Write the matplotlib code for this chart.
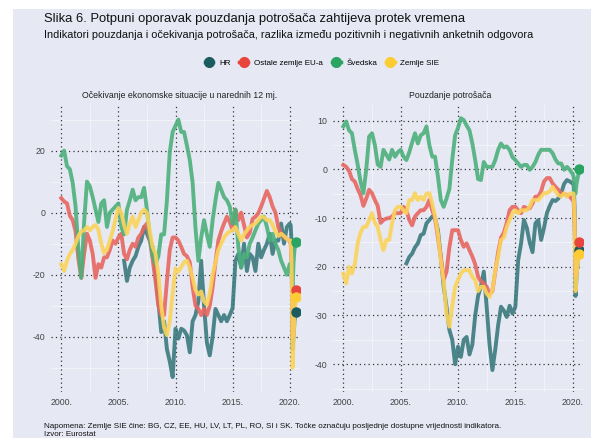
import numpy as np
import matplotlib
matplotlib.use("Agg")
import matplotlib.pyplot as plt
from matplotlib.lines import Line2D
from matplotlib.patches import Rectangle

plt.rcParams['font.family'] = ['Liberation Sans', 'DejaVu Sans']
plt.rcParams['axes.unicode_minus'] = False

# vrijeme: kvartalno 2000-2020, pa mjesecno veljaca-kolovoz 2020
godine = np.concatenate([np.arange(2000, 2020.01, 0.25), 2020 + np.arange(1, 8) / 12])
nan = np.nan

# Ocekivanje ekonomske situacije u narednih 12 mj.
hr_ocek = [nan] * 22 + [
    -15.5, -22,
    -17.7, -15.5, -14, -11,
    -9, -4.6, -6.8, -9,
    -11, -20, -28.6, -38.5,
    -35, -44, -48, -53,
    -37.4, -40.6, -37.4, -38,
    -39.5, -45, -35, -33,
    -28.6, -15.5, -30, -42,
    -46, -40, -31, -33,
    -35, -33, -35, -33,
    -30.8, -15.5, -13.3, -17.7,
    -10, -18.8, -13.3, -14.4,
    -18.8, -10, -14.4, -12,
    -10, -6.8, -13.3, -9,
    -9, -3.5, -10, -4.6,
    -3.5,
    -4, -10, -44, -40, -35, -33, -32]
eu_ocek = [
    4.7, 3.6, 3, -1,
    -2.4, -6, -15, -21,
    -13.3, -6.8, -9, -13.3,
    -21, -16.6, -17.7, -14.4,
    -14.4, -12, -9, -10,
    -8, -6.8, -13.3, -15,
    -12, -10, -11, -8,
    -6.8, -4.6, -3.5, -9,
    -15, -22, -30, -33,
    -33, -22, -12, -8,
    -8, -9, -11, -13.3,
    -14, -16, -24, -30,
    -31, -33, -31, -33,
    -30, -24, -16, -9,
    -6, -3.5, -1.3, -3,
    -5.7, 1, -2.4, 0,
    -4, -8, -6.5, -2,
    -1.3, -0.2, 2, 4.5,
    7, 5, 2, 0,
    -4.6, -6.8, -7.9, -8.5,
    -9,
    -10, -15, -40, -35, -30, -27, -25]
se_ocek = [
    18.4, 20, 15, 14,
    9.6, 2, -12, -21,
    -3, 10, 8.5, 5,
    1, -3, 3, 4,
    -4.6, 0, 1, 2,
    3, -4.6, -7, 1,
    4, 7.4, 4, 5,
    5, 8, 1, -8,
    -14, -16.6, -14, -7,
    -7, 4, 19.5, 26,
    28, 30, 26, 26,
    21.6, 17, 9.6, -5,
    -15.5, -8, -2.4, -7,
    -11, -2.4, 4, 9.6,
    7.4, 5, 4, 2,
    -3.5, 1, -11, -17.7,
    -13.3, -14.4, -10, -8,
    -5.7, -3.5, -2.4, -1.3,
    -4.6, -9, -6.8, -10,
    -12, -15.5, -17.7, -20,
    -16.6,
    -17, -20, -24, -16, -12, -10, -9.5]
sie_ocek = [
    -16.6, -18.8, -15.5, -13.3,
    -12, -10, -7.5, -6,
    -5.7, -4.6, -5.7, -4.6,
    -4, -5.5, -10, -13,
    -12, -9, -6, -2,
    1.5, 0, -4, -6.8,
    -3.5, -1.3, -4.6, -2.4,
    0, 1, 0, -6,
    -11, -13.3, -20, -30,
    -37, -39.5, -35, -26,
    -18, -19, -17.5, -16,
    -15.5, -17.7, -21, -25,
    -26.4, -25.4, -28.6, -29.7,
    -26, -20, -16, -12,
    -10, -8, -6.8, -6,
    -5.7, -4.6, -6.8, -9,
    -7, -5.7, -4.6, -4,
    -3.5, -2.4, -1.3, -1.5,
    -2.4, -2.4, -4, -6,
    -7.5, -6.8, -7.5, -8.5,
    -9,
    -9, -15, -50, -42, -33, -29, -27.3]

# Pouzdanje potrosaca
hr_pouz = [nan] * 22 + [
    -19.3, -18,
    -17.3, -16, -15.2, -13.5,
    -13.2, -11.1, -10.4, -9.7,
    -10, -12.5, -18, -24,
    -28.2, -33, -35, -40,
    -36.4, -38.5, -35, -34.4,
    -38, -36, -30, -26,
    -24.1, -21, -28.2, -36,
    -41.2, -37, -32, -28.2,
    -29, -30.3, -28, -29.6,
    -28.2, -18.6, -15.2, -10.4,
    -12, -15, -17, -11.1,
    -10.4, -14.5, -12, -9,
    -7.5, -6.3, -6.5, -6,
    -4.9, -3, -2.2, -2.5,
    -2.9,
    -3, -8, -26, -22, -20, -18, -16.6]
eu_pouz = [
    0.9, 0.5, -0.3, -2,
    -2.5, -4, -5.3, -7.5,
    -6, -4.2, -4.9, -6.3,
    -7.5, -11, -10.4, -10.1,
    -10, -9.7, -9, -9,
    -9, -7.7, -8.4, -10.4,
    -11.5, -9.7, -9, -8.4,
    -8.4, -7.7, -6.3, -8.4,
    -10, -14, -18, -22.7,
    -21, -16, -12.5, -12.5,
    -12.5, -14.5, -15.9, -15.2,
    -16.6, -17.9, -19.5, -22,
    -23, -23.4, -24.1, -25.5,
    -25, -21, -17, -14,
    -13, -11, -8.4, -7.7,
    -7.7, -8.4, -9, -7.7,
    -8, -8, -7, -5.6,
    -5.6, -4.5, -2.5, -1.8,
    -1.8, -2.9, -3.6, -4.2,
    -5, -5, -5.3, -5.6,
    -6.3,
    -6.5, -11, -22, -21, -18, -16, -14.9]
se_pouz = [
    8.8, 9.8, 8, 7.4,
    4, 1, -2.5, -4.9,
    0, 6.7, 7.4, 5,
    1, 0.5, 4, 3,
    2, 4, 2.6, 3.5,
    4, 2.6, 1.9, 3.5,
    5.5, 7.4, 5.3, 7,
    7.4, 8.8, 5, 2.6,
    2.6, -1.5, -6.3, -7.7,
    -6, -4, 2, 7,
    8.5, 10.5, 10.1, 9,
    8, 5.3, 1.9, -2,
    -2.2, 1.5, 0.5, 0.5,
    0.5, 1.9, 4, 5.3,
    4.5, 4.7, 4, 2.5,
    1.9, 1.2, 0.5, 0.9,
    0.9, -0.1, 0.5, 1.5,
    3, 4, 4, 4,
    4, 3.3, 2, 1.2,
    1.2, -0.1, 0.5, -0.1,
    -1,
    -1.5, -5, -5, -3, -2, -1, 0]
sie_pouz = [
    -21.4, -23.4, -20, -21.4,
    -19.5, -15.2, -13, -11.8,
    -11.8, -10.4, -9, -11,
    -11.8, -14.5, -16.6, -14.5,
    -14.5, -11.1, -8.4, -7.7,
    -7.7, -8.4, -9, -6.3,
    -6.3, -4.9, -6.3, -5.6,
    -6.3, -5, -4.9, -7,
    -9.7, -13.2, -18.6, -23,
    -29.6, -32.3, -28, -24.1,
    -22.7, -21.4, -20.7, -20.7,
    -20.7, -22.1, -22.7, -25,
    -24.1, -24.1, -25.5, -26.2,
    -24.8, -20.7, -17.9, -14.5,
    -14, -11.8, -10.4, -9,
    -8.4, -9, -8.4, -8.4,
    -8.4, -7.7, -6.3, -6.3,
    -6.3, -5.6, -4.9, -4.9,
    -4.5, -3.6, -4.5, -5.3,
    -5.6, -4.9, -5.6, -5,
    -4.9,
    -5, -10, -25, -22, -20, -18.5, -17.4]

nazivi = ['HR', 'Ostale zemlje EU-a', 'Švedska', 'Zemlje SIE']
boje_linija = ['#3b7a7d', '#e8665f', '#4cb07b', '#fbd35a']
boje_tocaka = ['#1b5c60', '#e8453d', '#2aa463', '#fdcc33']
x_godine = [2000, 2005, 2010, 2015, 2020]

pozadina = '#e6e8f4'

fig = plt.figure(figsize=(5.91, 4.38), dpi=100)
fig.patch.set_facecolor('white')
# lavandasta pozadina (lijevo i gore ostaje bijela traka)
fig.patches.append(Rectangle((13 / 591, 0), 1, 1 - 9 / 438, transform=fig.transFigure,
                             facecolor=pozadina, edgecolor='none', zorder=-10))

fig.text(44 / 591, 1 - 19 / 438, 'Slika 6. Potpuni oporavak pouzdanja potrošača zahtijeva protek vremena',
         fontsize=9.4, va='center', ha='left', color='#111111')
fig.text(44 / 591, 1 - 35 / 438,
         'Indikatori pouzdanja i očekivanja potrošača, razlika između pozitivnih i negativnih anketnih odgovora',
         fontsize=7.9, va='center', ha='left', color='#111111')
fig.text(44 / 591, 1 - 426 / 438,
         'Napomena: Zemlje SIE čine: BG, CZ, EE, HU, LV, LT, PL, RO, SI i SK. Točke označuju posljednje dostupne vrijednosti indikatora.',
         fontsize=5.8, va='center', ha='left', color='#111111')
fig.text(44 / 591, 1 - 435 / 438, 'Izvor: Eurostat', fontsize=5.8, va='center', ha='left', color='#111111')

ax1 = fig.add_axes([51 / 591, 1 - 392 / 438, 249 / 591, 287 / 438])
ax2 = fig.add_axes([333 / 591, 1 - 392 / 438, 250 / 591, 287 / 438])

paneli = [
    (ax1, [hr_ocek, eu_ocek, se_ocek, sie_ocek], 'Očekivanje ekonomske situacije u narednih 12 mj.', 0.518,
     (-57.8, 34.7), [-40, -20, 0, 20], [-50, -30, -10, 10, 30]),
    (ax2, [hr_pouz, eu_pouz, se_pouz, sie_pouz], 'Pouzdanje potrošača', 0.468,
     (-45.7, 13.2), [-40, -30, -20, -10, 0, 10], [-45, -35, -25, -15, -5, 5]),
]

for ax, serije, naslov, xnasl, ylim, yticks, ymin in paneli:
    ax.set_facecolor(pozadina)
    for s in ax.spines.values():
        s.set_visible(False)
    # slabe pomocne linije
    for v in ymin:
        ax.axhline(v, color='#f2f3f9', lw=0.8, zorder=0)
    for g in [2002.5, 2007.5, 2012.5, 2017.5]:
        ax.axvline(g, color='#f2f3f9', lw=0.8, zorder=0)
    ax.grid(True, color='#333333', linestyle=(0, (1, 2.5)), linewidth=0.9, zorder=1)
    ax.set_axisbelow(True)
    for serija, bl in zip(serije, boje_linija):
        ax.plot(godine, np.array(serija, dtype=float), color=bl, lw=2.8, alpha=0.9,
                solid_joinstyle='round', zorder=3)
    for serija, bt in zip(serije, boje_tocaka):
        ax.plot(godine[-1], serija[-1], 'o', color=bt, markersize=6.5, zorder=5)
    ax.set_xlim(1999.1, 2020.9)
    ax.set_ylim(*ylim)
    ax.set_xticks(x_godine)
    ax.set_xticklabels([f'{g}.' for g in x_godine])
    ax.set_yticks(yticks)
    ax.tick_params(length=0, labelsize=6.3, colors='#444444', pad=4)
    ax.text(xnasl, 1 + 5 / 287, naslov, transform=ax.transAxes, ha='center', va='bottom',
            fontsize=6.3, color='#222222')

ruke = [Line2D([0], [0], color=b, lw=2.5, marker='o', markersize=7) for b in boje_tocaka]
fig.legend(ruke, nazivi, loc='center', bbox_to_anchor=(322 / 591, 1 - 63 / 438), ncol=4,
           frameon=False, fontsize=5.8, handlelength=1.1, handletextpad=0.7, columnspacing=1.1)

fig.savefig('out.png', dpi=100, facecolor=fig.get_facecolor())
